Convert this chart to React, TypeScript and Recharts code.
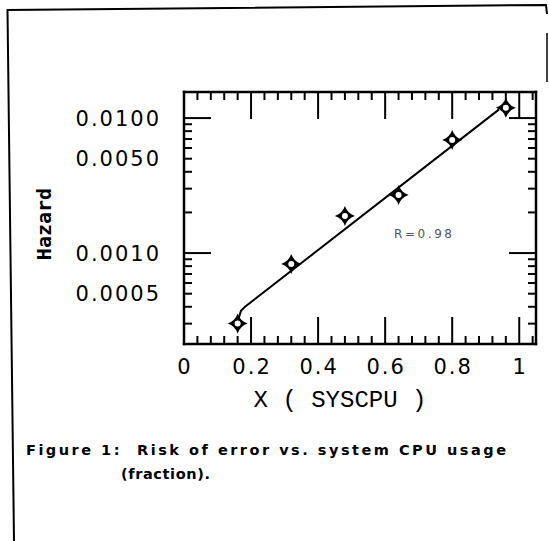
import React from 'react';
import { ComposedChart, XAxis, YAxis, Line, Scatter, Label } from 'recharts';

const sysCpu = [0.16, 0.32, 0.48, 0.64, 0.8, 0.96];
const hazard = [0.000301, 0.00083, 0.00188, 0.00269, 0.00687, 0.0119];

// Fitted line as drawn
const fitX = [0.16, 0.17, 0.182, 0.94];
const fitY = [0.00031, 0.000374, 0.0004, 0.0116];

// Axis ticks
const xMajorTicks = [0, 0.2, 0.4, 0.6, 0.8, 1];
const xMinorTicks = [0.04, 0.08, 0.12, 0.16, 0.24, 0.28, 0.32, 0.36, 0.44, 0.48, 0.52, 0.56, 0.64, 0.68, 0.72, 0.76, 0.84, 0.88, 0.92, 0.96, 1.04];
const yLabelTicks = [0.0005, 0.001, 0.005, 0.01];
const yMajorTicks = [0.001, 0.01];
const yMinorTicks = [0.0003, 0.0004, 0.0005, 0.0006, 0.0007, 0.0008, 0.0009, 0.002, 0.003, 0.004, 0.005, 0.006, 0.007, 0.008, 0.009];

const xDomain = [0, 1.05];
const yDomain = [0.000212, 0.0156];

const caption1 = 'Figure 1:  Risk of error vs. system CPU usage';
const caption2 = '(fraction).';
const annotation = 'R=0.98';

const points = sysCpu.map((x, i) => ({ x, y: hazard[i] }));
const fit = fitX.map((x, i) => ({ x, y: fitY[i] }));

const xAllTicks = [...xMajorTicks, ...xMinorTicks].sort((a, b) => a - b);
const yAllTicks = [...yMajorTicks, ...yMinorTicks].sort((a, b) => a - b);

const axisLineStyle = { stroke: '#000', strokeWidth: 2.5, strokeLinecap: 'square' as const };
const MAJOR = 27;
const MINOR = 8;

const fmtX = (v: number) => (v === 0 ? '0' : v === 1 ? '1' : v.toFixed(1));
const near = (arr: number[], v: number) => arr.some((a) => Math.abs(a - v) < 1e-9);

const textStyle = { fontFamily: 'DejaVu Sans', fontSize: 21, letterSpacing: 2, fill: '#000' };

const BottomTick = (props: any) => {
  const { x, y, payload } = props;
  const v = payload.value;
  const len = near(xMajorTicks, v) ? MAJOR : MINOR;
  return (
    <g>
      <line x1={x} x2={x} y1={y} y2={y - len} stroke="#000" strokeWidth={2} />
      {near(xMajorTicks, v) ? (
        <text x={x + 1} y={y + 30} textAnchor="middle" {...textStyle}>
          {fmtX(v)}
        </text>
      ) : null}
    </g>
  );
};

const TopTick = (props: any) => {
  const { x, y, payload } = props;
  const len = near(xMajorTicks, payload.value) ? MAJOR : MINOR;
  return <line x1={x} x2={x} y1={y} y2={y + len} stroke="#000" strokeWidth={2} />;
};

const LeftTick = (props: any) => {
  const { x, y, payload } = props;
  const v = payload.value;
  const len = near(yMajorTicks, v) ? MAJOR : MINOR;
  return (
    <g>
      <line x1={x} x2={x + len} y1={y} y2={y} stroke="#000" strokeWidth={2} />
      {near(yLabelTicks, v) ? (
        <text x={x - 23} y={y + 7.5} textAnchor="end" {...textStyle}>
          {v.toFixed(4)}
        </text>
      ) : null}
    </g>
  );
};

const RightTick = (props: any) => {
  const { x, y, payload } = props;
  const len = near(yMajorTicks, payload.value) ? MAJOR : MINOR;
  return <line x1={x} x2={x - len} y1={y} y2={y} stroke="#000" strokeWidth={2} />;
};

const Marker = (props: any) => {
  const { cx, cy } = props;
  if (cx == null || cy == null) return null;
  const r = 10;
  const c = 2.5;
  const d = `M${cx - r},${cy} Q${cx - c},${cy - c} ${cx},${cy - r} Q${cx + c},${cy - c} ${cx + r},${cy} Q${cx + c},${cy + c} ${cx},${cy + r} Q${cx - c},${cy + c} ${cx - r},${cy} Z`;
  return (
    <g>
      <path d={d} fill="#000" />
      <circle cx={cx} cy={cy} r={3.8} fill="#fff" stroke="#000" strokeWidth={1.6} />
    </g>
  );
};

export default function App() {
  return (
    <div style={{ position: 'absolute', left: 0, top: 0, width: 549, height: 541, background: '#fff', overflow: 'hidden' }}>
      <ComposedChart
        width={549}
        height={541}
        margin={{ top: 91, right: 12, bottom: 196, left: 183 }}
        style={{ position: 'absolute', left: 0, top: 0 }}
      >
        <XAxis
          xAxisId="x"
          type="number"
          dataKey="x"
          domain={xDomain}
          allowDataOverflow
          ticks={xAllTicks}
          interval={0}
          height={1}
          tickSize={0}
          tickMargin={0}
          tickLine={false}
          axisLine={axisLineStyle}
          tick={<BottomTick />}
        >
          <Label
            content={() => (
              <text x={340} y={407} textAnchor="middle" fontFamily="Liberation Mono" fontSize={24} fill="#000" style={{ whiteSpace: 'pre' }}>
                X ( SYSCPU )
              </text>
            )}
          />
        </XAxis>
        <XAxis
          xAxisId="xt"
          orientation="top"
          type="number"
          dataKey="x"
          domain={xDomain}
          allowDataOverflow
          ticks={xAllTicks}
          interval={0}
          height={1}
          tickSize={0}
          tickMargin={0}
          tickLine={false}
          axisLine={axisLineStyle}
          tick={<TopTick />}
        />
        <YAxis
          yAxisId="y"
          type="number"
          dataKey="y"
          scale="log"
          domain={yDomain}
          allowDataOverflow
          ticks={yAllTicks}
          interval={0}
          width={1}
          tickSize={0}
          tickMargin={0}
          tickLine={false}
          axisLine={axisLineStyle}
          tick={<LeftTick />}
        >
          <Label
            content={() => (
              <text x={51} y={224} transform="rotate(-90, 51, 224)" textAnchor="middle" fontFamily="DejaVu Sans Mono" fontWeight="bold" fontSize={20} fill="#000">
                Hazard
              </text>
            )}
          />
        </YAxis>
        <YAxis
          yAxisId="yr"
          orientation="right"
          type="number"
          dataKey="y"
          scale="log"
          domain={yDomain}
          allowDataOverflow
          ticks={yAllTicks}
          interval={0}
          width={1}
          tickSize={0}
          tickMargin={0}
          tickLine={false}
          axisLine={axisLineStyle}
          tick={<RightTick />}
        />

        <Line
          xAxisId="x"
          yAxisId="y"
          data={fit}
          dataKey="y"
          type="linear"
          stroke="#000"
          strokeWidth={2}
          dot={false}
          activeDot={false}
          isAnimationActive={false}
        />
        <Scatter xAxisId="x" yAxisId="y" data={points} dataKey="y" shape={<Marker />} isAnimationActive={false} />
      </ComposedChart>
      <svg width={549} height={541} style={{ position: 'absolute', left: 0, top: 0, pointerEvents: 'none' }}>
        <path d="M14,541 L7.5,10 L546,5 L547,14" fill="none" stroke="#000" strokeWidth={2} />
        <line x1={547} y1={33} x2={547} y2={82} stroke="#000" strokeWidth={1.5} />
        <text x={394} y={238} fontFamily="DejaVu Sans" fontSize={12} fill="#555" textLength={58} lengthAdjust="spacing">
          {annotation}
        </text>
        <text x={26} y={455} fontFamily="DejaVu Sans" fontWeight="bold" fontSize={14.5} fill="#000" textLength={480} lengthAdjust="spacing" style={{ whiteSpace: 'pre' }}>
          {caption1}
        </text>
        <text x={121} y={479} fontFamily="DejaVu Sans" fontWeight="bold" fontSize={14.5} fill="#000" textLength={89} lengthAdjust="spacing">
          {caption2}
        </text>
      </svg>
    </div>
  );
}
